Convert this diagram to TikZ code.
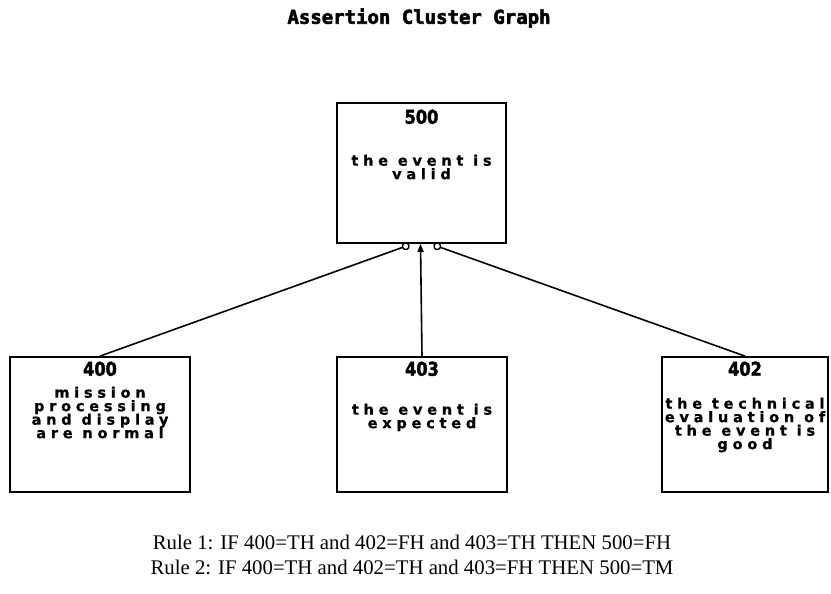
\documentclass[tikz,border=0pt]{standalone}
\usepackage{fontspec}
\setmainfont{Liberation Serif}
\newfontfamily\titlefont[FakeBold=3]{DejaVu Sans Mono Bold}
\newfontfamily\idfont[FakeBold=2, FakeStretch=0.85]{DejaVu Sans Bold}
\newfontfamily\boxfont[LetterSpace=33, FakeBold=1]{DejaVu Sans Bold}
\usetikzlibrary{arrows.meta, positioning}

\tikzset{
  assertion/.style={draw, line width=1.8pt, minimum height=135pt, inner sep=0pt},
  idtext/.style={font=\idfont\fontsize{19}{19}\selectfont, anchor=north},
  claim/.style={font=\boxfont\fontsize{14.5}{13.5}\selectfont\setlength\lineskiplimit{-20pt}, align=center, anchor=north},
  link/.style={line width=1.6pt},
}

\begin{document}
\begin{tikzpicture}[x=1pt, y=-1pt]
    \useasboundingbox (0,0) rectangle (831,594);

    \node[font=\titlefont\fontsize{19}{19}\selectfont] (title) at (419,18) {Assertion Cluster Graph};

    % Assertion boxes
    \node[assertion, minimum width=169pt, minimum height=140pt] (n500) at (421.5,173) {};
    \node[assertion, minimum width=180pt] (n400) at (100,424.5) {};
    \node[assertion, minimum width=170pt] (n403) at (422,424.5) {};
    \node[assertion, minimum width=166pt] (n402) at (745,424.5) {};

    % Box texts
    \node[idtext] (id500) at ([yshift=-4pt]n500.north) {500};
    \node[claim] (c500) at ([yshift=-49pt]n500.north) {the event is\\valid};
    \node[idtext] (id400) at ([yshift=-2pt]n400.north) {400};
    \node[claim] (c400) at ([yshift=-27pt]n400.north) {mission\\processing\\and display\\are normal};
    \node[idtext] (id403) at ([yshift=-2pt]n403.north) {403};
    \node[claim] (c403) at ([yshift=-44pt]n403.north) {the event is\\expected};
    \node[idtext] (id402) at ([yshift=-2pt]n402.north) {402};
    \node[claim] (c402) at ([yshift=-38pt]n402.north) {the technical\\evaluation of\\the event is\\good};

    % Support links
    \draw[link, -{Circle[open, length=8pt, line width=1.4pt]}] (n400.north) -- ([xshift=-12pt, yshift=-1pt]n500.south);
    \draw[link, -{Triangle[length=8pt, width=6pt]}] (n403.north) -- ([xshift=-1pt]n500.south);
    \draw[link, -{Circle[open, length=8pt, line width=1.4pt]}] (n402.north) -- ([xshift=12pt, yshift=-1pt]n500.south);

    % Rules
    \node[font=\fontsize{20.8}{24.5}\selectfont, align=center] (rules) at (412,555) {Rule 1: IF 400=TH and 402=FH and 403=TH THEN 500=FH\\Rule 2: IF 400=TH and 402=TH and 403=FH THEN 500=TM};
\end{tikzpicture}
\end{document}
